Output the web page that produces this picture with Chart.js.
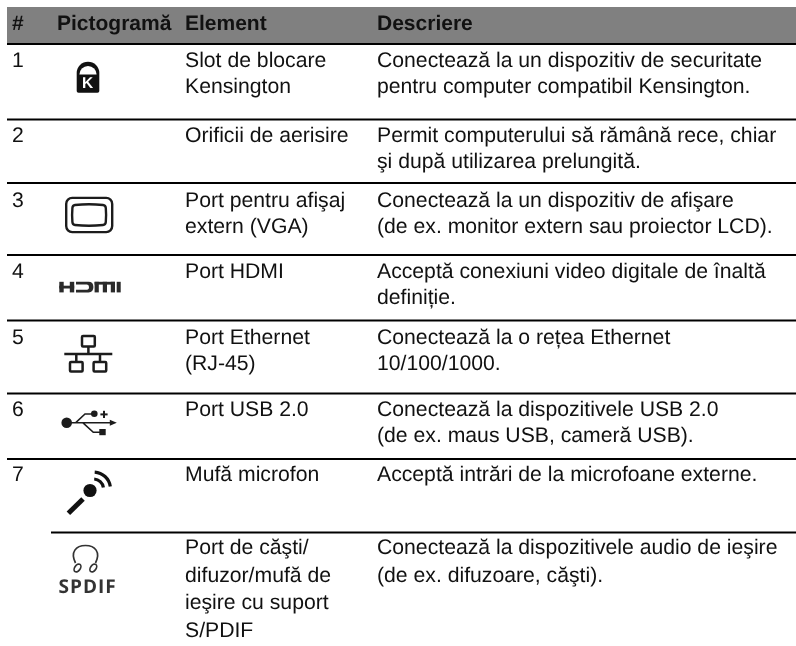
<!DOCTYPE html>
<html lang="en">
<head>
    <meta charset="UTF-8">
    <title>Pictograme</title>
    <script src="https://cdn.jsdelivr.net/npm/chart.js"></script>
    <style>
        html, body { margin: 0; padding: 0; background: #fff; overflow: hidden; }
        canvas { display: block; }
    </style>
</head>
<body>
    <canvas id="chart" width="796" height="646"></canvas>
    <script>
        const headers = ['#', 'Pictogramă', 'Element', 'Descriere'];
        const rowNumbers = ['1', '2', '3', '4', '5', '6', '7', ''];
        const elements = [
            ['Slot de blocare', 'Kensington'],
            ['Orificii de aerisire'],
            ['Port pentru afişaj', 'extern (VGA)'],
            ['Port HDMI'],
            ['Port Ethernet', '(RJ-45)'],
            ['Port USB 2.0'],
            ['Mufă microfon'],
            ['Port de căşti/', 'difuzor/mufă de', 'ieşire cu suport', 'S/PDIF']
        ];
        const descriptions = [
            ['Conectează la un dispozitiv de securitate', 'pentru computer compatibil Kensington.'],
            ['Permit computerului să rămână rece, chiar', 'şi după utilizarea prelungită.'],
            ['Conectează la un dispozitiv de afişare', '(de ex. monitor extern sau proiector LCD).'],
            ['Acceptă conexiuni video digitale de înaltă', 'definiție.'],
            ['Conectează la o rețea Ethernet', '10/100/1000.'],
            ['Conectează la dispozitivele USB 2.0', '(de ex. maus USB, cameră USB).'],
            ['Acceptă intrări de la microfoane externe.'],
            ['Conectează la dispozitivele audio de ieşire', '(de ex. difuzoare, căşti).']
        ];
        // table rules and row text baselines, read on the axis (one unit = 1px)
        const rowRules = [44, 119.5, 183, 255, 320.5, 393.5, 459, 532.5];
        const rowBaselines = [67, 142, 207, 278, 344, 416, 481, 554];
        const lineSteps = [26, 26, 26, 26, 26, 26, 26, 27.6];
        const columnStarts = [12, 57, 185, 377];

        const tableColors = { header: '#808080', rule: '#000000', text: '#111111' };
        const fontFamily = '"Liberation Sans", Arial, sans-serif';

        // rules are plain two point line datasets
        const ruleDatasets = rowRules.map((y, i) => ({
            data: [{ x: i === rowRules.length - 1 ? 51 : 7, y: y }, { x: 796, y: y }],
            borderColor: tableColors.rule,
            borderWidth: 2,
            pointRadius: 0,
            order: 1
        }));

        function rrect(ctx, x, y, w, h, r) {
            ctx.beginPath();
            ctx.roundRect(x, y, w, h, r);
        }

        function drawLock(ctx) {
            ctx.fillStyle = '#111';
            ctx.beginPath();
            ctx.moveTo(76.7, 91);
            ctx.lineTo(76.7, 73);
            ctx.arc(88, 73, 11.3, Math.PI, 0);
            ctx.lineTo(99.3, 91);
            ctx.quadraticCurveTo(99.3, 92.7, 97.5, 92.7);
            ctx.lineTo(78.5, 92.7);
            ctx.quadraticCurveTo(76.7, 92.7, 76.7, 91);
            ctx.fill();
            ctx.fillStyle = '#fff';
            ctx.beginPath();
            ctx.arc(88, 74.6, 8.6, Math.PI, 0);
            ctx.closePath();
            ctx.fill();
            ctx.font = 'bold 15.5px ' + fontFamily;
            ctx.textAlign = 'center';
            ctx.fillText('K', 87.6, 88.4);
            ctx.textAlign = 'left';
        }

        function drawVga(ctx) {
            ctx.strokeStyle = '#1c1c1c';
            ctx.lineWidth = 2.4;
            rrect(ctx, 66.2, 197.9, 46, 34.2, 6);
            ctx.stroke();
            ctx.beginPath();
            ctx.moveTo(75, 205);
            ctx.quadraticCurveTo(89, 203.6, 103, 205);
            ctx.quadraticCurveTo(105.6, 205.3, 105.8, 208);
            ctx.quadraticCurveTo(106.4, 215, 105.8, 222);
            ctx.quadraticCurveTo(105.6, 224.8, 103, 225);
            ctx.quadraticCurveTo(89, 226.4, 75, 225);
            ctx.quadraticCurveTo(72.6, 224.8, 72.4, 222);
            ctx.quadraticCurveTo(71.8, 215, 72.4, 208);
            ctx.quadraticCurveTo(72.6, 205.3, 75, 205);
            ctx.closePath();
            ctx.stroke();
        }

        function drawHdmi(ctx) {
            ctx.fillStyle = '#2a2a2a';
            // H
            ctx.fillRect(59.3, 281.8, 4.4, 10.6);
            ctx.fillRect(69.8, 281.8, 4.4, 10.6);
            ctx.fillRect(59.3, 285.7, 14.9, 2.8);
            // D
            ctx.beginPath();
            ctx.moveTo(76, 281.8);
            ctx.lineTo(88.5, 281.8);
            ctx.quadraticCurveTo(93.4, 281.8, 93.4, 287);
            ctx.quadraticCurveTo(93.4, 292.4, 88.5, 292.4);
            ctx.lineTo(76, 292.4);
            ctx.lineTo(76, 289.8);
            ctx.lineTo(87, 289.8);
            ctx.quadraticCurveTo(89, 289.8, 89, 287);
            ctx.quadraticCurveTo(89, 284.4, 87, 284.4);
            ctx.lineTo(76, 284.4);
            ctx.closePath();
            ctx.fill();
            // m
            ctx.fillRect(94.6, 281.8, 20.4, 2.8);
            ctx.fillRect(94.6, 281.8, 4.2, 10.6);
            ctx.fillRect(102.8, 281.8, 4.2, 10.6);
            ctx.fillRect(110.8, 281.8, 4.2, 10.6);
            // I
            ctx.fillRect(116.7, 281.8, 4, 10.6);
        }

        function drawNetwork(ctx) {
            ctx.strokeStyle = '#1c1c1c';
            ctx.lineWidth = 2.5;
            rrect(ctx, 82, 336, 12.8, 10.6, 1);
            ctx.stroke();
            rrect(ctx, 70, 362, 12.6, 9.6, 1);
            ctx.stroke();
            rrect(ctx, 93.6, 362, 12.6, 9.6, 1);
            ctx.stroke();
            ctx.beginPath();
            ctx.moveTo(64.3, 354); ctx.lineTo(112.3, 354);
            ctx.moveTo(88.4, 347); ctx.lineTo(88.4, 354);
            ctx.moveTo(76.3, 354); ctx.lineTo(76.3, 361);
            ctx.moveTo(100, 354); ctx.lineTo(100, 361);
            ctx.stroke();
        }

        function drawUsb(ctx) {
            ctx.strokeStyle = ctx.fillStyle = '#1c1c1c';
            ctx.lineWidth = 1.6;
            ctx.beginPath();
            ctx.arc(66.7, 422.7, 5.3, 0, Math.PI * 2);
            ctx.fill();
            ctx.beginPath();
            ctx.moveTo(70, 422.8); ctx.lineTo(112, 422.8);
            ctx.moveTo(75.5, 422.8); ctx.lineTo(85, 414); ctx.lineTo(92, 414);
            ctx.moveTo(83, 422.8); ctx.lineTo(93.3, 432.3); ctx.lineTo(100, 432.3);
            ctx.stroke();
            ctx.beginPath();
            ctx.arc(94.3, 413.8, 3.3, 0, Math.PI * 2);
            ctx.fill();
            ctx.fillRect(99.3, 429, 6.4, 6.2);
            ctx.beginPath();
            ctx.moveTo(116.8, 422.8); ctx.lineTo(109.8, 419.8); ctx.lineTo(109.8, 425.8);
            ctx.closePath();
            ctx.fill();
            // plus
            ctx.fillRect(100.4, 413.4, 7.2, 2);
            ctx.fillRect(103, 410.8, 2, 7.2);
        }

        function drawMic(ctx) {
            ctx.strokeStyle = ctx.fillStyle = '#111';
            ctx.lineWidth = 5;
            ctx.beginPath();
            ctx.moveTo(68.4, 513.2); ctx.lineTo(83, 499);
            ctx.stroke();
            ctx.beginPath();
            ctx.arc(90, 490.5, 6.6, 0, Math.PI * 2);
            ctx.fill();
            ctx.lineWidth = 3.2;
            ctx.beginPath();
            ctx.arc(93.5, 489, 10, -1.5, -0.15);
            ctx.stroke();
            ctx.beginPath();
            ctx.arc(93.5, 489, 17, -1.5, -0.15);
            ctx.stroke();
        }

        function drawSpdif(ctx) {
            ctx.strokeStyle = '#333';
            ctx.lineWidth = 1.7;
            ctx.beginPath();
            ctx.moveTo(75.5, 563);
            ctx.bezierCurveTo(70, 552, 76, 545.5, 85.5, 545.5);
            ctx.bezierCurveTo(95, 545.5, 101, 552, 95.5, 563);
            ctx.stroke();
            ctx.beginPath();
            ctx.ellipse(77.5, 568, 2.8, 4.4, 0.6, 0, Math.PI * 2);
            ctx.stroke();
            ctx.beginPath();
            ctx.ellipse(93.3, 568, 2.8, 4.4, 0.6, 0, Math.PI * 2);
            ctx.stroke();
            ctx.fillStyle = '#333';
            ctx.font = 'bold 19px "Open Sans", sans-serif';
            ctx.letterSpacing = '1px';
            ctx.fillText('SPDIF', 58.5, 592.7);
            ctx.letterSpacing = '0px';
        }

        const tablePlugin = {
            id: 'tablePlugin',
            afterDatasetsDraw(chart) {
                const { ctx, scales: { x, y } } = chart;
                ctx.save();
                ctx.fillStyle = tableColors.text;
                ctx.textBaseline = 'alphabetic';
                // no hinting, the source text has fractional advances
                ctx.textRendering = 'geometricPrecision';
                ctx.font = 'bold 21px ' + fontFamily;
                headers.forEach((h, i) => {
                    ctx.fillText(h, x.getPixelForValue(columnStarts[i]), y.getPixelForValue(29.5));
                });
                ctx.font = '21.2px ' + fontFamily;
                rowBaselines.forEach((base, r) => {
                    ctx.fillText(rowNumbers[r], x.getPixelForValue(columnStarts[0]), y.getPixelForValue(base));
                    elements[r].forEach((line, l) => {
                        ctx.fillText(line, x.getPixelForValue(columnStarts[2]), y.getPixelForValue(base + l * lineSteps[r]));
                    });
                    descriptions[r].forEach((line, l) => {
                        ctx.fillText(line, x.getPixelForValue(columnStarts[3]), y.getPixelForValue(base + l * lineSteps[r]));
                    });
                });
                ctx.restore();
                // the scales are 1:1 with the canvas so the icons can share them
                [drawLock, drawVga, drawHdmi, drawNetwork, drawUsb, drawMic, drawSpdif].forEach(draw => {
                    ctx.save();
                    ctx.textBaseline = 'alphabetic';
                    ctx.textRendering = 'geometricPrecision';
                    draw(ctx);
                    ctx.restore();
                });
            }
        };

        new Chart('chart', {
            type: 'line',
            data: {
                datasets: [{
                    data: [{ x: 7, y: 25 }, { x: 796, y: 25 }],
                    borderColor: tableColors.header,
                    borderWidth: 36,
                    pointRadius: 0,
                    order: 2
                }, ...ruleDatasets]
            },
            options: {
                responsive: false,
                animation: false,
                layout: { padding: 0 },
                plugins: { legend: { display: false }, tooltip: { enabled: false } },
                scales: {
                    x: { type: 'linear', min: 0, max: 796, display: false },
                    y: { type: 'linear', min: 0, max: 646, reverse: true, display: false }
                }
            },
            plugins: [tablePlugin]
        });
    </script>
</body>
</html>
